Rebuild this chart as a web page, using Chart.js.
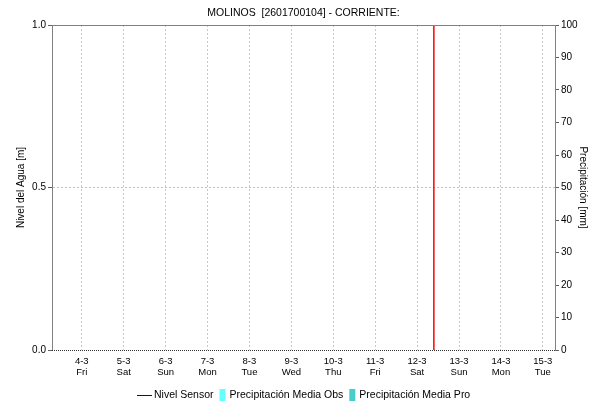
<!DOCTYPE html>
<html>
<head>
<meta charset="utf-8">
<script src="https://cdn.jsdelivr.net/npm/chart.js@4/dist/chart.umd.min.js"></script>
<style>
  body { margin: 0; background: #fff; }
  #wrap { width: 590px; height: 405px; }
</style>
</head>
<body>
<div id="wrap"><canvas id="chart" width="590" height="405"></canvas></div>
<script>
// day-of-month ticks (March) and weekday names
const dayNums = [4, 5, 6, 7, 8, 9, 10, 11, 12, 13, 14, 15];
const weekdays = ['Fri', 'Sat', 'Sun', 'Mon', 'Tue', 'Wed', 'Thu', 'Fri', 'Sat', 'Sun', 'Mon', 'Tue'];
const monthNum = 3;
const xRange = [3.29, 15.29];

// series (no readings in the window)
const nivelSensor = [];
const precipObs = [];
const precipPro = [];

// "now" marker
const nowDay = 12.4;
const nivelRange = [0, 1];

const legendItems = [
  { text: 'Nivel Sensor', kind: 'line', color: '#0000cc' },
  { text: 'Precipitación Media Obs', kind: 'box', color: '#66ffff' },
  { text: 'Precipitación Media Pro', kind: 'box', color: '#48cccc' }
];

const FONT = "'Liberation Sans', Arial, sans-serif";

// frame lines + legend drawn by hand
const framePlugin = {
  id: 'frame',
  afterDraw(chart) {
    const { ctx, chartArea: a } = chart;
    ctx.save();
    ctx.strokeStyle = '#808080';
    ctx.lineWidth = 1;
    ctx.beginPath();
    ctx.moveTo(a.left, a.top + 0.5);
    ctx.lineTo(a.right, a.top + 0.5);
    ctx.stroke();
    ctx.strokeStyle = '#303030';
    ctx.setLineDash([1, 1]);
    ctx.beginPath();
    ctx.moveTo(a.left, a.bottom + 0.5);
    ctx.lineTo(a.right, a.bottom + 0.5);
    ctx.stroke();
    ctx.setLineDash([]);

    // legend
    ctx.font = '10.5px ' + FONT;
    ctx.textBaseline = 'middle';
    const y = 395;
    let x = 137;
    legendItems.forEach((it) => {
      if (it.kind === 'line') {
        ctx.strokeStyle = it.color;
        ctx.beginPath();
        ctx.moveTo(x, y + 0.5);
        ctx.lineTo(x + 15, y + 0.5);
        ctx.stroke();
        x += 17;
      } else {
        ctx.fillStyle = it.color;
        ctx.fillRect(x, y - 6, 6, 12);
        x += 10;
      }
      ctx.fillStyle = '#000';
      ctx.fillText(it.text, x, y);
      x += ctx.measureText(it.text).width + 6;
    });
    ctx.restore();
  }
};

new Chart(document.getElementById('chart'), {
  data: {
    datasets: [
      {
        type: 'line',
        label: 'Nivel Sensor',
        data: nivelSensor,
        borderColor: '#0000cc',
        borderWidth: 1,
        pointRadius: 0,
        yAxisID: 'y'
      },
      {
        type: 'bar',
        label: 'Precipitación Media Obs',
        data: precipObs,
        backgroundColor: '#66ffff',
        yAxisID: 'y1'
      },
      {
        type: 'bar',
        label: 'Precipitación Media Pro',
        data: precipPro,
        backgroundColor: '#48cccc',
        yAxisID: 'y1'
      },
      {
        type: 'line',
        label: 'Ahora',
        data: nivelRange.map(v => ({ x: nowDay, y: v })),
        borderColor: '#ff0000',
        borderWidth: 1.5,
        pointRadius: 0,
        yAxisID: 'y'
      }
    ]
  },
  options: {
    responsive: false,
    animation: false,
    layout: { padding: 0 },
    plugins: {
      legend: { display: false },
      tooltip: { enabled: false },
      title: {
        display: true,
        fullSize: false,
        text: 'MOLINOS  [2601700104] - CORRIENTE:',
        color: '#000',
        font: { family: FONT, size: 10.5, weight: 'normal' },
        padding: { top: 7, bottom: 5.4 }
      }
    },
    scales: {
      x: {
        type: 'linear',
        min: xRange[0],
        max: xRange[1],
        offset: false,
        afterBuildTicks: (scale) => {
          scale.ticks = dayNums.map(v => ({ value: v }));
        },
        afterFit: (scale) => { scale.height = 55; },
        ticks: {
          color: '#000',
          font: { family: FONT, size: 9.5, lineHeight: 1.15 },
          padding: 6,
          maxRotation: 0,
          autoSkip: false,
          callback: (v) => {
            const i = dayNums.indexOf(v);
            return [v + '-' + monthNum, weekdays[i]];
          }
        },
        grid: { color: '#c8c8c8', drawTicks: false, offset: false },
        border: { display: false, dash: [2, 2] }
      },
      y: {
        position: 'left',
        min: 0,
        max: 1,
        afterFit: (scale) => { scale.width = 52; },
        ticks: {
          stepSize: 0.5,
          color: '#000',
          font: { family: FONT, size: 10 },
          padding: 2,
          callback: (v) => v.toFixed(1)
        },
        grid: {
          color: (c) => (c.tick && c.tick.value === 0.5 ? '#c0c0c0' : 'rgba(0,0,0,0)'),
          tickColor: '#606060',
          tickLength: 4
        },
        border: { color: '#808080', dash: [2, 2] },
        title: {
          display: true,
          text: 'Nivel del Agua [m]',
          color: '#000',
          font: { family: FONT, size: 10 },
          padding: { top: 15, bottom: 0 }
        }
      },
      y1: {
        position: 'right',
        min: 0,
        max: 100,
        afterFit: (scale) => { scale.width = 35; },
        ticks: {
          stepSize: 10,
          color: '#000',
          font: { family: FONT, size: 10 },
          padding: 2
        },
        grid: { drawOnChartArea: false, tickColor: '#606060', tickLength: 4 },
        border: { color: '#808080' },
        title: {
          display: true,
          text: 'Precipitación [mm]',
          color: '#000',
          font: { family: FONT, size: 10 },
          padding: { top: 1, bottom: 0 }
        }
      }
    }
  },
  plugins: [framePlugin]
});
</script>
</body>
</html>
